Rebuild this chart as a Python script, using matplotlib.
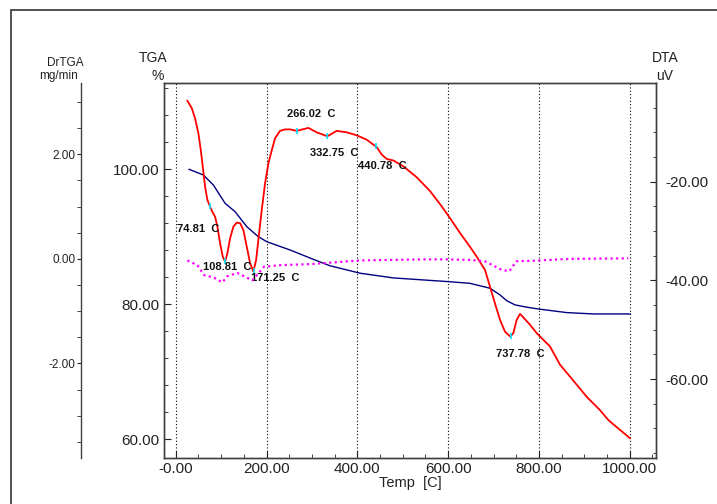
import numpy as np
import matplotlib.pyplot as plt
from matplotlib.patches import Rectangle

plt.rcParams['font.family'] = ['Liberation Sans', 'DejaVu Sans']

# DTA curve (red), uV
dta_temp = [25.6, 35.2, 42.5, 49.8, 55.1, 59.5, 64.5, 69.6, 75.6, 80.6, 86.6, 91.6, 97.6, 103.5,
            108.6, 113.7, 119.6, 126.9, 134.4, 141.6, 148.9, 156.4, 163.7, 170.9, 176.9, 181.9,
            189.4, 196.7, 204.0, 211.5, 218.7, 229.7, 240.7, 251.8, 266.5, 292.0, 310.6, 333.9,
            354.6, 376.7, 398.7, 420.7, 442.7, 453.7, 464.8, 479.3, 501.3, 530.8, 560.1, 585.9,
            604.2, 626.2, 648.2, 663.0, 681.3, 692.3, 703.3, 714.3, 725.3, 737.0, 743.6, 751.1,
            758.4, 765.6, 780.4, 795.2, 824.5, 846.5, 868.5, 905.3, 934.6, 952.9, 978.6, 1000.7]
dta_uv = [-3.6, -5.1, -7.2, -10.2, -13.6, -17.0, -21.0, -23.7, -25.1, -26.1, -27.1, -29.1, -32.5,
          -35.2, -36.2, -34.5, -31.5, -29.1, -28.3, -28.4, -29.8, -33.2, -36.5, -38.2, -35.9,
          -31.8, -25.7, -20.3, -16.3, -13.6, -11.2, -9.7, -9.4, -9.4, -9.7, -9.1, -10.0, -10.8,
          -9.7, -10.0, -10.6, -11.5, -13.0, -14.5, -15.4, -15.7, -16.9, -19.1, -21.9, -25.0,
          -27.4, -30.4, -33.2, -35.2, -37.9, -41.3, -44.7, -48.0, -50.4, -51.4, -50.7, -48.0,
          -46.8, -47.5, -49.0, -50.7, -53.4, -57.1, -59.5, -63.6, -66.3, -68.3, -70.3, -72.0]

# TGA curve (blue), %
tga_temp = [29.3, 60.8, 82.8, 108.6, 130.6, 156.4, 181.9, 200.4, 251.8, 304.6,
            339.9, 405.9, 479.3, 600.4, 648.0, 692.3, 714.3, 729.0, 747.4, 773.0, 802.4, 861.2,
            919.8, 1000.7]
tga_pct = [100.0, 99.16, 97.67, 94.96, 93.72, 91.50, 90.01, 89.27, 88.04, 86.61,
           85.7, 84.6, 83.9, 83.35, 83.1, 82.37, 81.38, 80.53, 79.9, 79.56, 79.26, 78.76,
           78.56, 78.56]

# DrTGA curve (magenta dotted), mg/min
dr_temp = [25.6, 47.6, 62.3, 84.4, 102.6, 113.7, 135.7, 168.7, 194.5, 231.3, 297.4, 406.0,
           538.0, 600.4, 648.0, 681.0, 699.6, 718.0, 734.8, 743.6, 751.0, 795.0, 868.5, 997.0]
dr_val = [-0.03, -0.12, -0.31, -0.36, -0.45, -0.33, -0.27, -0.41, -0.15, -0.12, -0.10, -0.03,
          -0.01, -0.01, -0.02, -0.046, -0.128, -0.21, -0.237, -0.128, -0.046, -0.033, 0.0, 0.01]

# peak labels
peaks = [74.81, 108.81, 171.25, 266.02, 332.75, 440.78, 737.78]
label_pos = [(3.5, -29.5), (60.8, -37.3), (166.5, -39.6), (244.5, -6.3),
             (295.8, -14.1), (402.2, -16.9), (705.5, -54.9)]

W, H = 717, 504
fig = plt.figure(figsize=(W / 100, H / 100), dpi=100)
fig.add_artist(Rectangle((11 / W, -0.1), 1.2, (H - 9.5) / H + 0.1, transform=fig.transFigure,
                         fill=False, edgecolor='#333333', lw=1.2))

ax = fig.add_axes([164 / W, 46 / H, 492 / W, 375 / H])
ax2 = ax.twinx()
ax3 = ax.twinx()
spine_col = '#404040'

# TGA (left)
ax.plot(tga_temp, tga_pct, color='#000080', lw=1.0, zorder=3)
ax.set_xlim(-26, 1058)
ax.set_ylim(57.2, 112.8)
ax.set_xticks(range(0, 1001, 200), ['-0.00', '200.00', '400.00', '600.00', '800.00', '1000.00'])
ax.set_xticks(range(0, 1051, 50), minor=True)
ax.set_yticks([60, 80, 100], ['60.00', '80.00', '100.00'])
ax.set_yticks(range(60, 113, 4), minor=True)
ax.tick_params(which='both', direction='in', labelsize=11, colors='#222222', pad=3)
ax.tick_params(which='major', length=5)
ax.tick_params(which='minor', length=3)
ax.tick_params(axis='y', right=False)
ax.grid(axis='x', which='major', linestyle=(0, (1, 2)), color='black', lw=0.8)
for s in ax.spines.values():
    s.set_color(spine_col)
    s.set_linewidth(1.0)
ax.set_xlabel('Temp  [C]', fontsize=10.5, color='#222222', labelpad=0)

# DrTGA (far left)
ax3.plot(dr_temp, dr_val, color='#ff00ff', lw=1.6, linestyle=(0, (1, 1.5)))
ax3.set_ylim(-3.81, 3.365)
ax3.spines['left'].set_position(('axes', (80.7 - 164) / 492))
ax3.spines['left'].set_visible(True)
ax3.spines['left'].set_color(spine_col)
ax3.spines['left'].set_linewidth(1.0)
for side in ['right', 'top', 'bottom']:
    ax3.spines[side].set_visible(False)
ax3.yaxis.set_ticks_position('left')
ax3.yaxis.set_label_position('left')
ax3.set_yticks([-2, 0, 2], ['-2.00', '0.00', '2.00'])
ax3.set_yticks(np.arange(-3.5, 3.1, 0.5), minor=True)
ax3.tick_params(which='both', direction='out', length=3, labelsize=8.5, colors='#222222', pad=1)

# DTA (right)
ax2.plot(dta_temp, dta_uv, color='#ff0000', lw=1.3, zorder=4)
ax2.plot(peaks, np.interp(peaks, dta_temp, dta_uv), '|', color='#00e5ff', ms=5, mew=1.2, zorder=5)
for p, (tx, ty) in zip(peaks, label_pos):
    ax2.text(tx, ty, f'{p:.2f}  C', fontsize=8, fontweight='bold', color='#111111',
             ha='left', va='center', zorder=6)
ax2.set_ylim(-76.0, 0.0)
ax2.set_yticks([-60, -40, -20], ['-60.00', '-40.00', '-20.00'])
ax2.set_yticks(range(-75, 0, 5), minor=True)
ax2.tick_params(which='both', direction='in', labelsize=11, colors='#222222', pad=7)
ax2.tick_params(which='major', length=4)
ax2.tick_params(which='minor', length=2)
for s in ax2.spines.values():
    s.set_color(spine_col)
    s.set_linewidth(1.0)

# axis titles
def ftext(x, y, s, size, ha='center'):
    fig.text(x / W, 1 - y / H, s, fontsize=size, ha=ha, va='center', color='#222222')

ftext(65.5, 62.5, 'DrTGA', 8.5)
ftext(58.8, 76.5, 'mg/min', 8.5)
ftext(153.3, 58, 'TGA', 10)
ftext(157.5, 76, '%', 10)
ftext(665.2, 58.3, 'DTA', 10)
ftext(664.7, 75.7, 'uV', 10)

fig.savefig('out.png', dpi=100)
